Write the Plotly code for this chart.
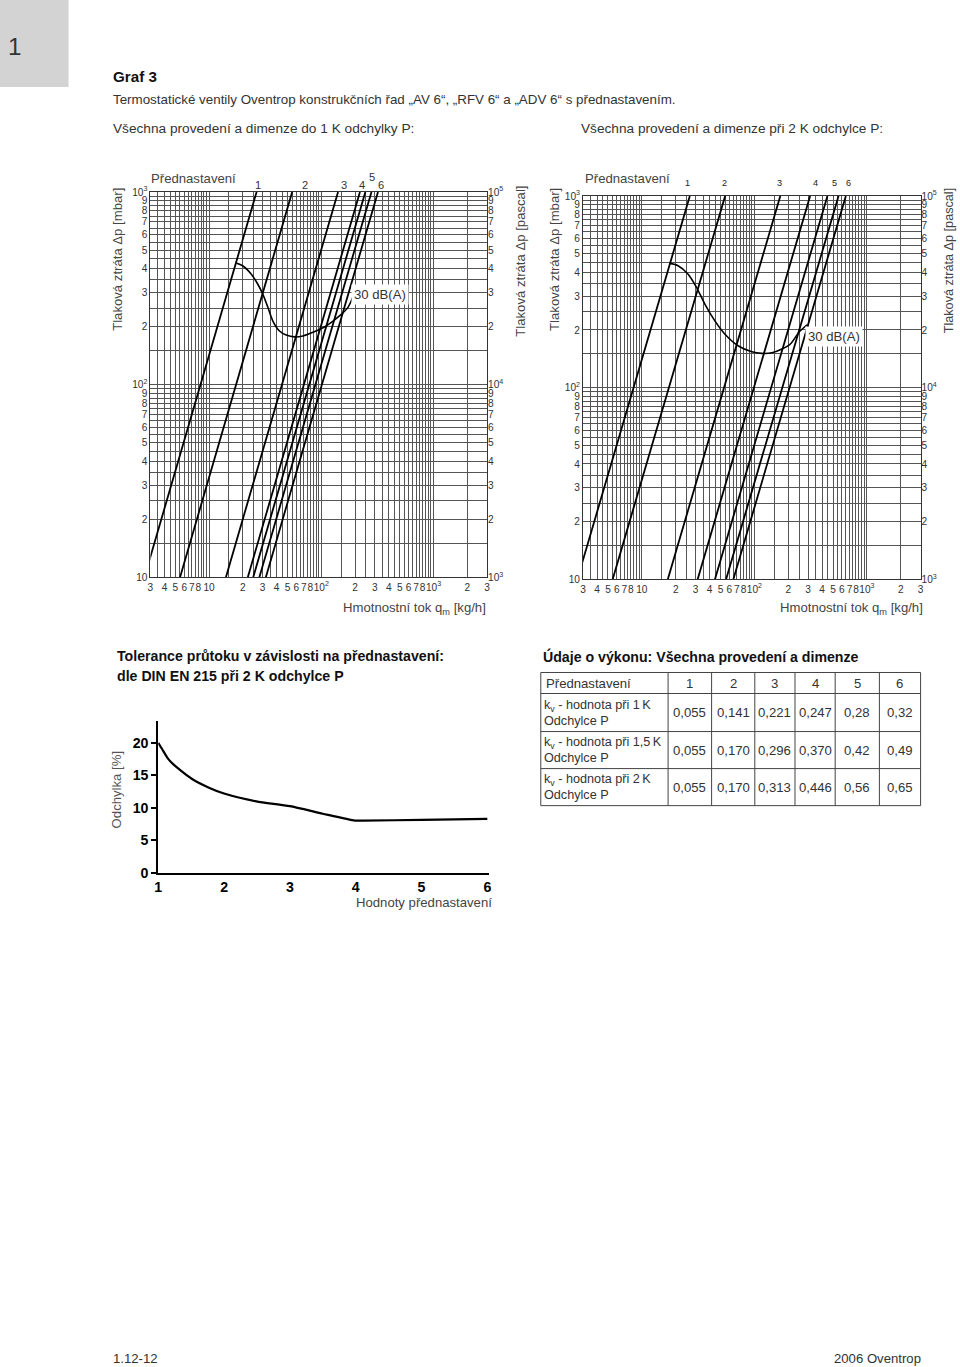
import plotly.graph_objects as go

W, H = 960, 1367
# the photographed page comes out shrunk by ~1.2 % about its centre; place things so they land right
S = 0.988
def X(p): return (W / 2 + (p - W / 2) / S) / W
def Y(p): return 1 - (H / 2 + (p - H / 2) / S) / H
def F(sz): return sz / S

FONT = "Liberation Sans, Arial, sans-serif"

# ---------------- data ----------------
settings = ["1", "2", "3", "4", "5", "6"]
kv_1K = [0.055, 0.141, 0.221, 0.247, 0.28, 0.32]
kv_15K = [0.055, 0.170, 0.296, 0.370, 0.42, 0.49]
kv_2K = [0.055, 0.170, 0.313, 0.446, 0.56, 0.65]
kv_decimals = [3, 3, 3, 3, 2, 2]

# straight lines of the left chart (1 K): flow [kg/h] at 10 mbar and at 1000 mbar
left_q_10mbar = [2.65, 5.5, 14.1, 22.1, 24.7, 28.0, 32.0]
left_q_1000mbar = [26.5, 55.0, 141.0, 221.0, 247.0, 280.0, 320.0]
# straight lines of the right chart (2 K)
right_q_10mbar = [2.67, 5.5, 17.0, 31.3, 44.6, 56.0, 65.0]
right_q_1000mbar = [26.7, 55.0, 170.0, 313.0, 446.0, 560.0, 650.0]
dp_ends = [10, 1000]

# 30 dB(A) noise curves
noise_left_q = [17.4, 19.9, 23.7, 27.1, 30.1, 33.4, 37.0, 42.4, 48.7, 57.8, 68.6, 84.3, 111, 146, 173, 192, 199]
noise_left_dp = [428, 414, 375, 333, 295, 252, 214, 190, 181, 177, 179, 187, 202, 228, 252, 289, 321]
noise_right_q = [17.7, 21.0, 25.8, 30.6, 36.3, 44.6, 54.8, 72.2, 94.9, 116, 143, 176, 209, 248, 294]
noise_right_dp = [445, 433, 391, 334, 273, 223, 190, 165, 154, 151, 152, 159, 169, 194, 213]

# tolerance curve
tol_x = [1.0, 1.06, 1.16, 1.32, 1.52, 1.77, 2.0, 2.49, 3.0, 3.5, 3.99, 4.12, 5.0, 6.0]
tol_y = [20.0, 19.0, 17.4, 15.9, 14.4, 13.1, 12.2, 11.0, 10.26, 9.1, 8.05, 8.05, 8.15, 8.3]
tol_y_ticks = [0, 5, 10, 15, 20]

# tick labels
x_tick_vals = [3, 4, 5, 6, 7, 8, 10, 20, 30, 40, 50, 60, 70, 80, 100,
               200, 300, 400, 500, 600, 700, 800, 1000, 2000, 3000]
x_tick_text = ["3", "4", "5", "6", "7", "8", "10", "2", "3", "4", "5", "6", "7", "8",
               "10<sup>2</sup>", "2", "3", "4", "5", "6", "7", "8", "10<sup>3</sup>", "2", "3"]
y_tick_vals = [10, 20, 30, 40, 50, 60, 70, 80, 90, 100, 200, 300, 400, 500, 600, 700, 800, 900, 1000]
y_tick_text = ["10", "2", "3", "4", "5", "6", "7", "8", "9", "10<sup>2</sup>",
               "2", "3", "4", "5", "6", "7", "8", "9", "10<sup>3</sup>"]
pa_tick_vals = [1000, 2000, 3000, 4000, 5000, 6000, 7000, 8000, 9000, 10000,
                20000, 30000, 40000, 50000, 60000, 70000, 80000, 90000, 100000]
pa_tick_text = ["10<sup>3</sup>", "2", "3", "4", "5", "6", "7", "8", "9", "10<sup>4</sup>",
                "2", "3", "4", "5", "6", "7", "8", "9", "10<sup>5</sup>"]
grid_mult = [1, 1.5, 2, 2.5, 3, 3.5, 4, 4.5, 5, 5.5, 6, 6.5, 7, 7.5, 8, 8.5, 9, 9.5]
x_grid = [m for m in grid_mult if m >= 3] + [10 * m for m in grid_mult] + [100 * m for m in grid_mult] + [1000, 2000, 3000]
y_grid = [10 * m for m in grid_mult] + [100 * m for m in grid_mult] + [1000]

fig = go.Figure()

GRID = "#555555"

def add_lines(xa, ya, ya_pa, q_lo, q_hi, nq, ndp):
    for lo, hi in zip(q_lo, q_hi):
        fig.add_trace(go.Scatter(x=[lo, hi], y=dp_ends, mode="lines", xaxis=xa, yaxis=ya,
                                 line=dict(color="black", width=1.8), hoverinfo="skip"))
    fig.add_trace(go.Scatter(x=nq, y=ndp, mode="lines", xaxis=xa, yaxis=ya,
                             line=dict(color="black", width=1.6, shape="spline", smoothing=0.8),
                             hoverinfo="skip"))
    # empty trace so that the pascal axis is drawn
    fig.add_trace(go.Scatter(x=[], y=[], mode="lines", xaxis=xa, yaxis=ya_pa, hoverinfo="skip"))

add_lines("x", "y", "y2", left_q_10mbar, left_q_1000mbar, noise_left_q, noise_left_dp)
add_lines("x3", "y3", "y4", right_q_10mbar, right_q_1000mbar, noise_right_q, noise_right_dp)

fig.add_trace(go.Scatter(x=tol_x, y=tol_y, mode="lines", xaxis="x5", yaxis="y5",
                         line=dict(color="black", width=2.2, shape="spline", smoothing=0.6),
                         hoverinfo="skip"))

tickfont = dict(family=FONT, size=F(10), color="#333")

def log_x(dom, anchor):
    return dict(type="log", range=[0.47712, 3.47712], domain=dom, anchor=anchor,
                tickmode="array", tickvals=x_tick_vals, ticktext=x_tick_text, tickangle=0,
                showgrid=True, gridcolor=GRID, gridwidth=1, ticks="", tickfont=tickfont,
                minor=dict(tickmode="array", tickvals=x_grid, showgrid=True, gridcolor=GRID, gridwidth=1, ticks=""),
                showline=True, linecolor="#333", linewidth=1, mirror=True, zeroline=False)

def log_y(dom, anchor):
    return dict(type="log", range=[1, 3], domain=dom, anchor=anchor,
                tickmode="array", tickvals=y_tick_vals, ticktext=y_tick_text,
                showgrid=True, gridcolor=GRID, gridwidth=1, ticks="", tickfont=tickfont,
                minor=dict(tickmode="array", tickvals=y_grid, showgrid=True, gridcolor=GRID, gridwidth=1, ticks=""),
                showline=True, linecolor="#333", linewidth=1, mirror=True, zeroline=False)

def pa_y(over, anchor):
    return dict(type="log", range=[3, 5], overlaying=over, anchor=anchor, side="right",
                tickmode="array", tickvals=pa_tick_vals, ticktext=pa_tick_text,
                showgrid=False, ticks="", tickfont=tickfont, zeroline=False, showline=False)

fig.update_layout(
    width=W, height=H, margin=dict(l=0, r=0, t=0, b=0),
    paper_bgcolor="white", plot_bgcolor="white", showlegend=False,
    font=dict(family=FONT, color="#222"),
    xaxis=log_x([X(151.5), X(486.5)], "y"),
    yaxis=log_y([Y(578), Y(193)], "x"),
    yaxis2=pa_y("y", "x"),
    xaxis3=log_x([X(582), X(918)], "y3"),
    yaxis3=log_y([Y(580), Y(197)], "x3"),
    yaxis4=pa_y("y3", "x3"),
    xaxis5=dict(range=[1, 6.03], domain=[X(159.3), X(159.3 + 5.03 * 65.5)], anchor="y5",
                tickmode="array", tickvals=[1, 2, 3, 4, 5, 6],
                ticktext=["<b>%s</b>" % s for s in settings], tickangle=0,
                showgrid=False, zeroline=False,
                showline=True, linecolor="black", linewidth=2, ticks="",
                tickfont=dict(family=FONT, size=F(14), color="black")),
    yaxis5=dict(range=[0, 23.3], domain=[Y(873.3), Y(721.7)], anchor="x5",
                tickmode="array", tickvals=tol_y_ticks,
                ticktext=["<b>%d</b>" % v for v in tol_y_ticks],
                showgrid=False, zeroline=False,
                showline=True, linecolor="black", linewidth=2, ticks="outside", ticklen=5,
                tickwidth=2, tickcolor="black",
                tickfont=dict(family=FONT, size=F(14), color="black")),
)

ann = []
def A(text, x, y, size=13, xa="left", ya="middle", color="#222", angle=0, bg=None, bold=False, pad=1, align="left"):
    d = dict(text=("<b>%s</b>" % text) if bold else text, x=X(x), y=Y(y), xref="paper", yref="paper",
             xanchor=xa, yanchor=ya, showarrow=False, textangle=angle, align=align,
             font=dict(family=FONT, size=F(size), color=color))
    if bg:
        d["bgcolor"] = bg
        d["borderpad"] = pad
    ann.append(d)

# header
A("1", 17, 48, size=24, xa="center", color="#333")
A("Graf 3", 112, 78, size=15, bold=True, color="#111")
A("Termostatické ventily Oventrop konstrukčních řad „AV 6“, „RFV 6“ a „ADV 6“ s přednastavením.", 112, 101, size=13.2, color="#333")
A("Všechna provedení a dimenze do 1 K odchylky P:", 112, 130, size=13.5, color="#333")
A("Všechna provedení a dimenze při 2 K odchylce P:", 578, 130, size=13.5, color="#333")

# chart labels
for x0, x1, xr, fs in [(118, 519, 487, 13), (553, 946.5, 922, 12.5)]:
    A("Tlaková ztráta Δp [mbar]", x0, 260, size=13, xa="center", angle=-90, color="#444")
    A("Tlaková ztráta Δp [pascal]", x1, 262, size=fs, xa="center", angle=-90, color="#444")
    A("Hmotnostní tok q<sub>m</sub> [kg/h]", xr, 609, size=13, xa="right", color="#444")
A("Přednastavení", 150, 180, size=13, color="#444")
A("Přednastavení", 582, 180, size=13, color="#444")
for s, xx, yy in zip(settings, [259, 305, 344, 362, 372, 381], [186, 186, 186, 186, 178, 186]):
    A(s, xx, yy, size=11, xa="center", color="#333")
for s, xx in zip(settings, [686, 723, 778, 813, 832, 846]):
    A(s, xx, 184, size=9, xa="center", color="#222")
A("30 dB(A)", 380, 295, size=13, xa="center", bg="white", color="#333", pad=2)
A("30 dB(A)", 832, 337, size=13, xa="center", bg="white", color="#333", pad=2)

# tolerance chart texts
A("Tolerance průtoku v závislosti na přednastavení:", 116, 657, size=14, bold=True, color="#111")
A("dle DIN EN 215 při 2 K odchylce P", 116, 677, size=14, bold=True, color="#111")
A("Odchylka [%]", 118, 790, size=13, xa="center", angle=-90, color="#555")
A("Hodnoty přednastavení", 493, 903, size=13, xa="right", color="#444")

# table
A("Údaje o výkonu: Všechna provedení a dimenze", 540, 657, size=14, bold=True, color="#111")
col_x = [540, 666.7, 710, 753, 793, 833, 877, 918]
row_y = [673, 694, 732, 769, 806]
shapes = []
for xx in col_x:
    shapes.append(dict(type="line", xref="paper", yref="paper", x0=X(xx), x1=X(xx), y0=Y(row_y[0]), y1=Y(row_y[-1]),
                       line=dict(color="#444", width=1)))
for yy in row_y:
    shapes.append(dict(type="line", xref="paper", yref="paper", x0=X(col_x[0]), x1=X(col_x[-1]), y0=Y(yy), y1=Y(yy),
                       line=dict(color="#444", width=1)))
A("Přednastavení", 543, 684, size=13, color="#333")
for i, s in enumerate(settings):
    A(s, (col_x[i + 1] + col_x[i + 2]) / 2, 684, size=13, xa="center", color="#333")
row_labels = ["k<sub>v</sub> - hodnota při 1\u2009K<br>Odchylce P",
              "k<sub>v</sub> - hodnota při 1,5\u2009K<br>Odchylce P",
              "k<sub>v</sub> - hodnota při 2\u2009K<br>Odchylce P"]
for r, (lab, vals) in enumerate(zip(row_labels, [kv_1K, kv_15K, kv_2K])):
    yc = (row_y[r + 1] + row_y[r + 2]) / 2
    A(lab, 541, yc, size=12.5, color="#333", align="left")
    for i, (v, dcm) in enumerate(zip(vals, kv_decimals)):
        A(("{:.%df}" % dcm).format(v).replace(".", ","), (col_x[i + 1] + col_x[i + 2]) / 2, yc,
          size=13, xa="center", color="#333")

# footer
A("1.12-12", 112, 1358, size=13, color="#333")
A("2006 Oventrop", 920, 1358, size=13, xa="right", color="#333")

shapes.append(dict(type="rect", xref="paper", yref="paper", x0=X(0), x1=X(70), y0=Y(88), y1=Y(0),
                   fillcolor="#d3d3d3", line=dict(width=0), layer="below"))

fig.update_layout(annotations=ann, shapes=shapes)
fig.write_html("out.html", config={"displayModeBar": False},
               post_script=("document.documentElement.style.margin='0';"
                            "document.documentElement.style.padding='0';"
                            "document.documentElement.style.overflow='hidden';"
                            "document.body.style.margin='0';"
                            "document.body.style.padding='0';"
                            "document.body.style.overflow='hidden';"))
